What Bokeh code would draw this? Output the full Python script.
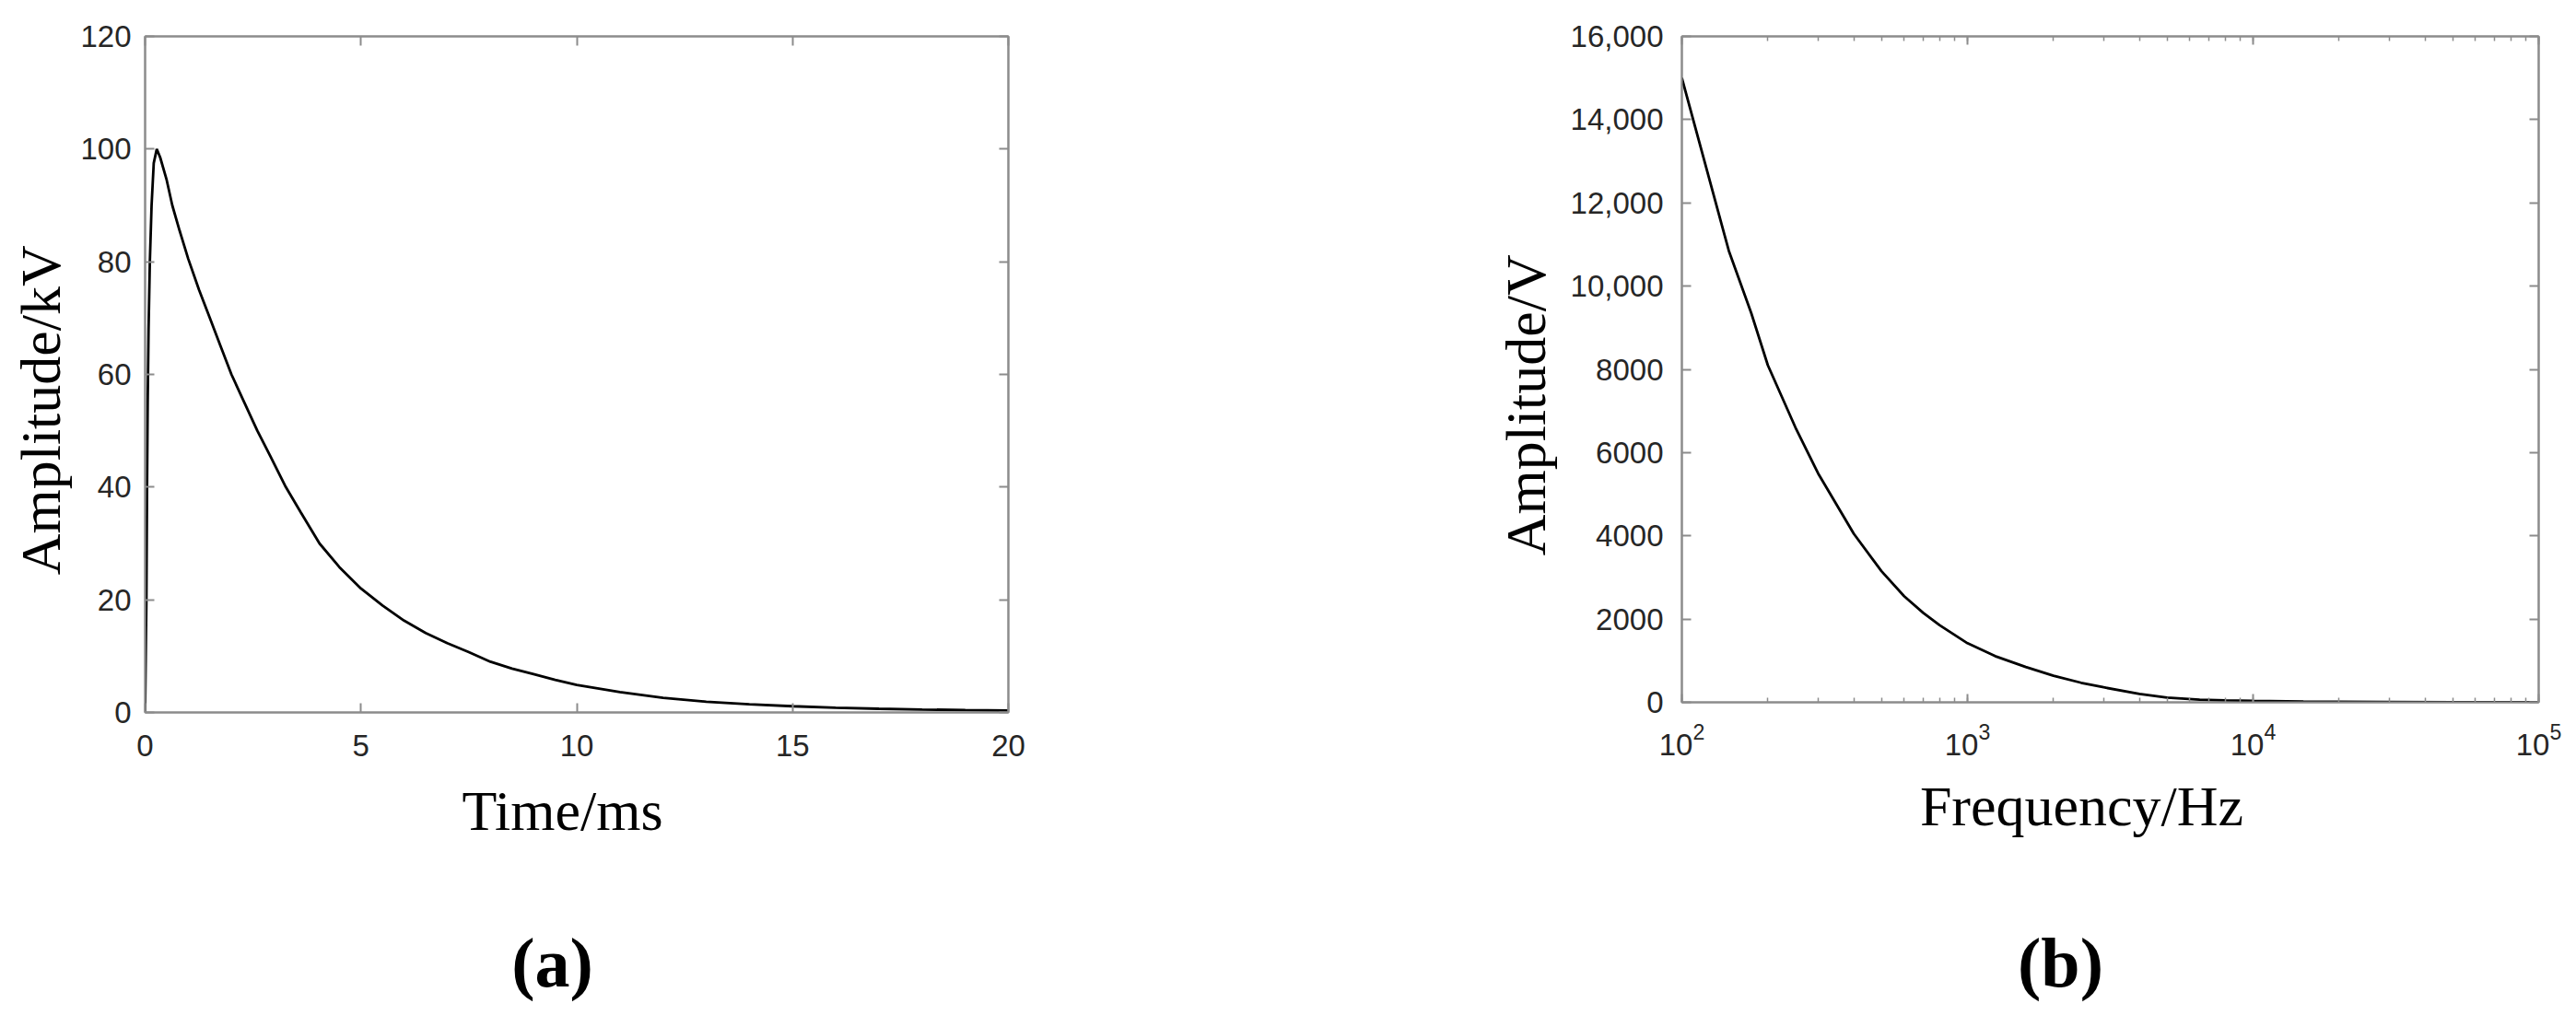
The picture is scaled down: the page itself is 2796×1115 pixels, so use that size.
from bokeh.plotting import figure
from bokeh.models import LinearAxis, LogAxis, FixedTicker, LogTicker, Range1d
from bokeh.layouts import row, column
from bokeh.core.properties import value
from bokeh.embed import file_html
from bokeh.resources import INLINE

# ---- data: panel (a) ----
time_ms = [0, 0.03, 0.045, 0.06, 0.08, 0.11, 0.15, 0.2, 0.27, 0.35, 0.5, 0.63, 0.8, 1.0,
           1.25, 1.5, 1.75, 2.0, 2.3, 2.6, 2.9, 3.26, 3.6, 4.04, 4.5, 5.0, 5.5, 6.0, 6.5,
           7.0, 7.5, 8.0, 8.5, 9.0, 9.5, 10.0, 11.0, 12.0, 13.0, 14.0, 15.0, 16.0, 17.0,
           18.0, 19.0, 20.0]
amp_kv = [0, 20, 40, 55, 68, 80, 90, 97.5, 100, 98.5, 94.5, 90, 85.5, 80.5,
          75, 70, 65, 60, 55, 50, 45.5, 40, 35.6, 30, 25.8, 22, 19, 16.3, 14.1,
          12.3, 10.7, 9.0, 7.8, 6.8, 5.8, 4.9, 3.6, 2.6, 1.9, 1.45, 1.1, 0.85, 0.65,
          0.52, 0.42, 0.35]
xticks_a = [0, 5, 10, 15, 20]
yticks_a = [0, 20, 40, 60, 80, 100, 120]

# ---- data: panel (b) ----
freq_hz = [100, 146, 175, 200, 250, 300, 400, 500, 600, 700, 800, 1000, 1250, 1600,
           2000, 2500, 3000, 4000, 5000, 6500, 8000, 10000, 15000, 20000, 30000, 50000,
           100000]
amp_v = [15000, 10850, 9350, 8100, 6600, 5500, 4050, 3150, 2550, 2150, 1850, 1420, 1110, 850,
         640, 470, 360, 200, 115, 65, 45, 35, 20, 12, 7, 4, 2]
yticks_b = [0, 2000, 4000, 6000, 8000, 10000, 12000, 14000, 16000]
ylabels_b = ["0", "2000", "4000", "6000", "8000", "10,000", "12,000", "14,000", "16,000"]

captions = ["(a)", "(b)"]

FRAME = "#8c8c8c"
TICKFONT = "Liberation Sans"
SERIF = "Liberation Serif"
NB = "\u00a0"
TOP_H = 1000
CAP_H = 115
LINE_W = 2.8


def style_axis(ax, labels=True, standoff=15):
    ax.axis_line_color = FRAME
    ax.axis_line_width = 2
    ax.major_tick_line_color = FRAME
    ax.major_tick_line_width = 2
    ax.major_tick_in = 10
    ax.major_tick_out = 0
    ax.minor_tick_line_color = FRAME
    ax.minor_tick_line_width = 1.5
    ax.minor_tick_in = 5
    ax.minor_tick_out = 0
    ax.major_label_standoff = standoff
    ax.major_label_text_font = TICKFONT
    ax.major_label_text_font_size = "33px" if labels else "0px"
    ax.major_label_text_color = "#262626"
    if not labels:
        ax.major_label_text_alpha = 0


def style_label(ax, text, size="62px", standoff=8):
    ax.axis_label = text
    ax.axis_label_text_font = SERIF
    ax.axis_label_text_font_size = size
    ax.axis_label_text_font_style = "normal"
    ax.axis_label_text_color = "black"
    ax.axis_label_standoff = standoff


def caption_fig(width, text, cx):
    c = figure(width=width, height=CAP_H, x_range=Range1d(0, width), y_range=Range1d(0, CAP_H),
               output_backend="svg", toolbar_location=None, x_axis_location=None,
               y_axis_location=None, min_border=0)
    c.grid.visible = False
    c.outline_line_color = None
    c.text(x=[cx], y=[CAP_H - 44], text=[text], text_font=value(SERIF), text_font_size="76px",
           text_font_style="bold", text_align="center", text_baseline="alphabetic",
           text_color="black")
    return c


# ================= panel (a) =================
p1 = figure(frame_width=937, frame_height=734, x_range=Range1d(0, 20), y_range=Range1d(0, 120),
            output_backend="svg", toolbar_location=None,
            min_border_left=157, min_border_right=406, min_border_top=37,
            min_border_bottom=TOP_H - 37 - 734)
p1.grid.visible = False
p1.outline_line_color = FRAME
p1.outline_line_width = 2

p1.xaxis.ticker = FixedTicker(ticks=xticks_a)
p1.yaxis.ticker = FixedTicker(ticks=yticks_a)
style_axis(p1.xaxis[0], standoff=24)
style_axis(p1.yaxis[0], standoff=15)
p1.xaxis[0].minor_tick_line_color = None
p1.yaxis[0].minor_tick_line_color = None
style_label(p1.xaxis[0], "Time/ms" + NB * 2, standoff=22)
style_label(p1.yaxis[0], "Amplitude/kV" + NB * 5, standoff=6)

top1 = LinearAxis(ticker=FixedTicker(ticks=xticks_a))
style_axis(top1, labels=False, standoff=0)
top1.minor_tick_line_color = None
p1.add_layout(top1, "above")
right1 = LinearAxis(ticker=FixedTicker(ticks=yticks_a))
style_axis(right1, labels=False, standoff=0)
right1.minor_tick_line_color = None
p1.add_layout(right1, "right")

p1.line(time_ms, amp_kv, line_color="black", line_width=LINE_W)

# ================= panel (b) =================
p2 = figure(frame_width=930, frame_height=723, x_axis_type="log", x_range=Range1d(100, 100000),
            y_range=Range1d(0, 16000), output_backend="svg", toolbar_location=None,
            min_border_left=325, min_border_right=35, min_border_top=39,
            min_border_bottom=TOP_H - 39 - 723)
p2.grid.visible = False
p2.outline_line_color = FRAME
p2.outline_line_width = 2

p2.yaxis.ticker = FixedTicker(ticks=yticks_b)
p2.yaxis.major_label_overrides = {t: s for t, s in zip(yticks_b, ylabels_b)}
style_axis(p2.xaxis[0], standoff=22)
style_axis(p2.yaxis[0], standoff=20)
p2.yaxis[0].minor_tick_line_color = None
p2.xaxis[0].ticker = LogTicker(num_minor_ticks=10)
p2.xaxis[0].major_tick_in = 9
style_label(p2.xaxis[0], "Frequency/Hz" + NB * 4, standoff=18)
style_label(p2.yaxis[0], "Amplitude/V" + NB * 5, standoff=12)

top2 = LogAxis(ticker=LogTicker(num_minor_ticks=10))
style_axis(top2, labels=False, standoff=0)
top2.major_tick_in = 9
p2.add_layout(top2, "above")
right2 = LinearAxis(ticker=FixedTicker(ticks=yticks_b))
style_axis(right2, labels=False, standoff=0)
right2.minor_tick_line_color = None
p2.add_layout(right2, "right")

p2.line(freq_hz, amp_v, line_color="black", line_width=LINE_W)

# ================= captions =================
c1 = caption_fig(1500, captions[0], 599)
c2 = caption_fig(1290, captions[1], 736)

layout = column(row(p1, p2), row(c1, c2))
open("out.html", "w").write(file_html(layout, INLINE, title="Amplitude"))
